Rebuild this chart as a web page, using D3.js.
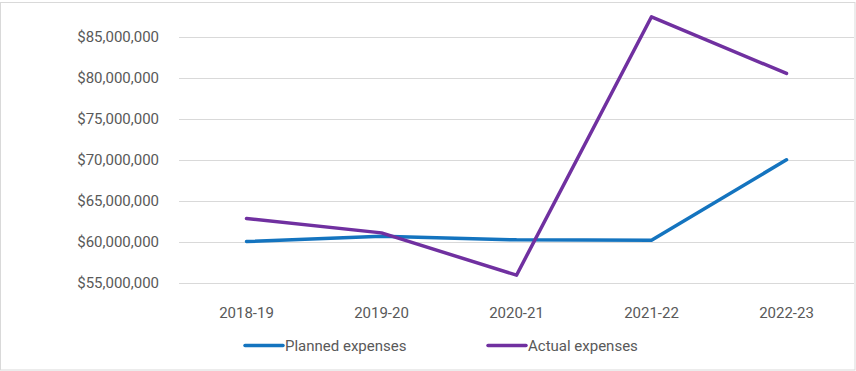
<!DOCTYPE html>
<html>
<head>
<meta charset="utf-8">
<script src="https://cdn.jsdelivr.net/npm/d3@7"></script>
<style>
  body { margin: 0; background: #fff; }
  text { font-family: "Liberation Sans Narrow", "Arial Narrow", "Roboto", sans-serif; fill: #595959; }
</style>
</head>
<body>
<svg id="chart" width="856" height="371"></svg>
<script>
// data
var years = ["2018-19", "2019-20", "2020-21", "2021-22", "2022-23"];
var planned = [60050000, 60700000, 60250000, 60200000, 70000000];
var actual = [62850000, 61100000, 55950000, 87400000, 80500000];
var yTicks = [55000000, 60000000, 65000000, 70000000, 75000000, 80000000, 85000000];
var seriesNames = ["Planned expenses", "Actual expenses"];
var seriesColors = ["#1474bf", "#7030a0"];

var svg = d3.select("#chart");

// outer frame
svg.append("rect")
    .attr("x", 0.5).attr("y", 2.5)
    .attr("width", 854.5).attr("height", 367.5)
    .attr("fill", "none")
    .attr("stroke", "#d9d9d9");

var left = 179, right = 854;
var xScale = d3.scaleBand()
    .domain(years)
    .range([left, right]);
var yScale = d3.scaleLinear()
    .domain([55000000, 85000000])
    .range([283, 36.5]);

// gridlines
svg.append("g").selectAll("line")
    .data(yTicks)
    .enter()
    .append("line")
    .attr("x1", left).attr("x2", right)
    .attr("y1", d => Math.round(yScale(d)) + 0.5)
    .attr("y2", d => Math.round(yScale(d)) + 0.5)
    .attr("stroke", "#d9d9d9")
    .attr("stroke-width", 1);

// y axis labels
var fmt = d3.format("$,");
svg.append("g").selectAll("text")
    .data(yTicks)
    .enter()
    .append("text")
    .attr("x", 159)
    .attr("y", d => yScale(d))
    .attr("dy", "0.35em")
    .attr("text-anchor", "end")
    .style("font-size", "15px")
    .text(d => fmt(d));

// x axis labels
svg.append("g").selectAll("text")
    .data(years)
    .enter()
    .append("text")
    .attr("x", d => xScale(d) + xScale.bandwidth() / 2)
    .attr("y", 313)
    .attr("dy", "0.35em")
    .attr("text-anchor", "middle")
    .style("font-size", "15px")
    .text(d => d);

// lines
var line = d3.line()
    .x((d, i) => xScale(years[i]) + xScale.bandwidth() / 2)
    .y(d => yScale(d));

[planned, actual].forEach(function(values, k) {
    svg.append("path")
        .datum(values)
        .attr("d", line)
        .attr("fill", "none")
        .attr("stroke", seriesColors[k])
        .attr("stroke-width", 3.5)
        .attr("stroke-linejoin", "round")
        .attr("stroke-linecap", "round");
});

// legend
var legendX = [245, 488];
seriesNames.forEach(function(name, k) {
    svg.append("line")
        .attr("x1", legendX[k]).attr("x2", legendX[k] + 38)
        .attr("y1", 345.5).attr("y2", 345.5)
        .attr("stroke", seriesColors[k])
        .attr("stroke-width", 3.5)
        .attr("stroke-linecap", "round");
    svg.append("text")
        .attr("x", legendX[k] + 40)
        .attr("y", 345.5)
        .attr("dy", "0.35em")
        .style("font-size", "15px")
        .text(name);
});
</script>
</body>
</html>
